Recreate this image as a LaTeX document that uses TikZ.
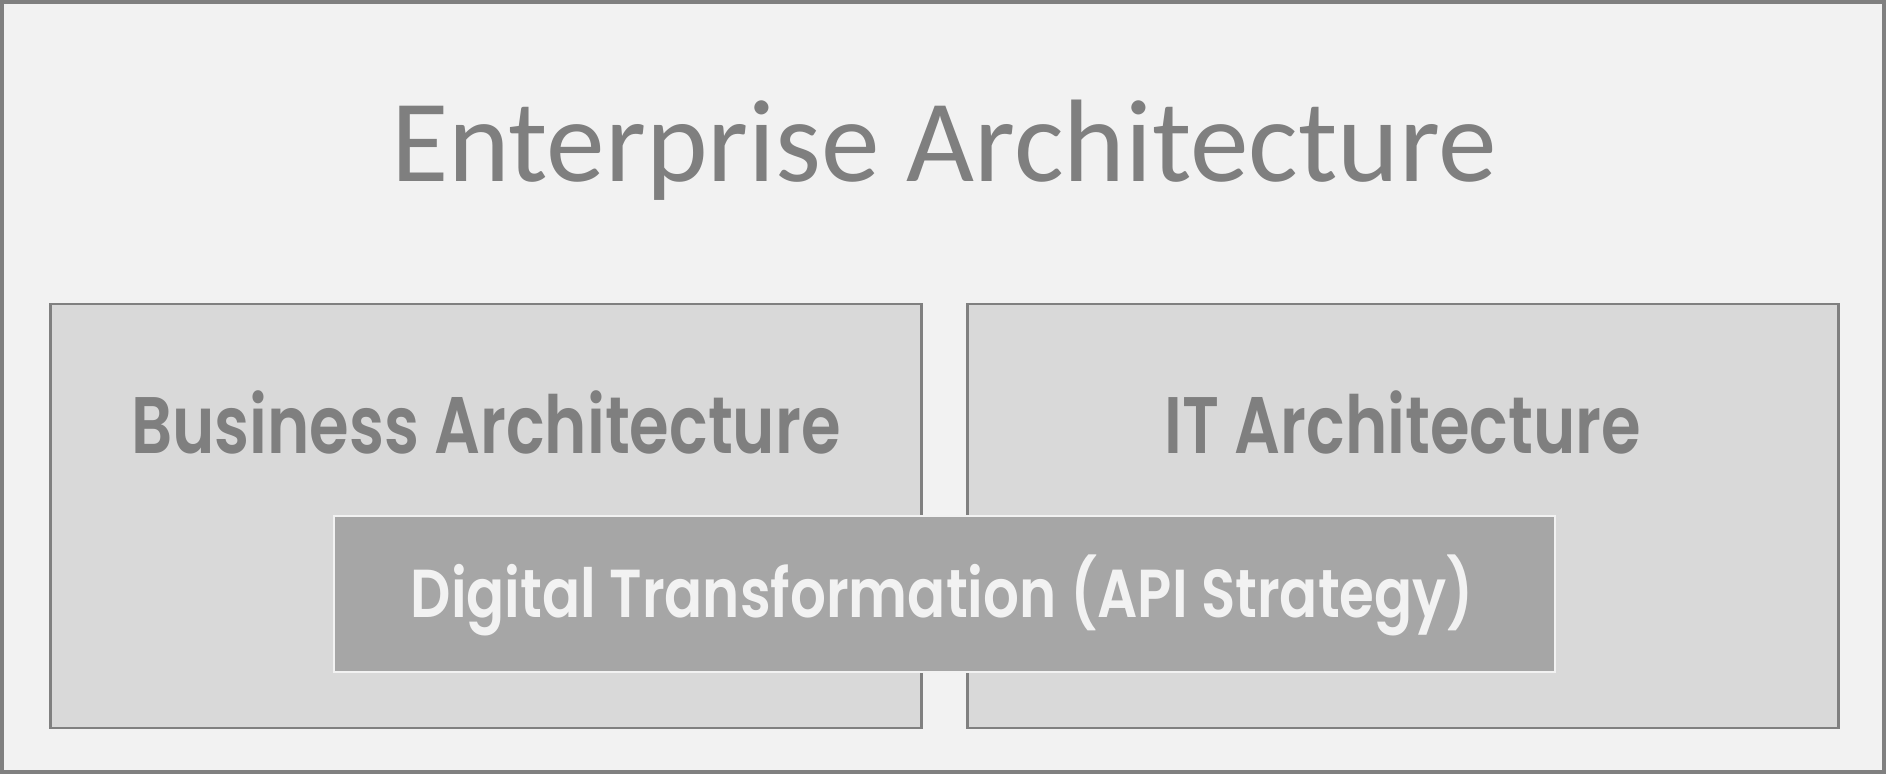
\documentclass[tikz,border=0pt]{standalone}
\usepackage{fontspec}
\usepackage{tikz}
\usetikzlibrary{positioning}
\setmainfont{Carlito}
\newfontfamily\geobold[FakeStretch=0.8]{Poppins SemiBold}
\newfontfamily\geomed[FakeStretch=0.83]{Poppins SemiBold}
\definecolor{framecolor}{HTML}{808080}
\definecolor{textcolor}{HTML}{7F7F7F}
\definecolor{pagecolor}{HTML}{F2F2F2}
\definecolor{boxcolor}{HTML}{D9D9D9}
\definecolor{dtcolor}{HTML}{A6A6A6}

\begin{document}
\begin{tikzpicture}[
    block/.style={draw=framecolor, fill=boxcolor, line width=0.025cm, rectangle, minimum height=4.24cm, minimum width=8.71cm, inner sep=0pt},
    dtblock/.style={draw=pagecolor, fill=dtcolor, line width=0.02cm, rectangle, minimum height=1.56cm, minimum width=12.21cm, inner sep=0pt},
    title/.style={text=textcolor, font=\fontsize{33.4}{36}\selectfont, anchor=base, inner sep=0pt},
    label/.style={text=textcolor, font=\geobold\fontsize{22.8}{26}\selectfont, anchor=base, inner sep=0pt},
    dtlabel/.style={text=pagecolor, font=\geomed\fontsize{19.3}{22}\selectfont, anchor=base, inner sep=0pt}
]

% Frame
\useasboundingbox (0,0) rectangle (18.86,-7.74);
\draw[framecolor, fill=pagecolor, line width=0.04cm] (0.02,-0.02) rectangle (18.84,-7.72);

% Title
\node[title] (ea) at (9.44,-1.82) {Enterprise Architecture};

% Architecture blocks
\node[block] (bus) at (4.86,-5.16) {};
\node[block] (it) at (14.03,-5.16) {};
\node[label] (bustext) at (4.86,-4.53) {Business Architecture};
\node[label] (ittext) at (14.03,-4.53) {IT Architecture};

% Digital transformation
\node[dtblock] (dt) at (9.445,-5.94) {};
\node[dtlabel] (dttext) at (9.425,-6.17) {Digital Transformation (API Strategy)};

\end{tikzpicture}
\end{document}
